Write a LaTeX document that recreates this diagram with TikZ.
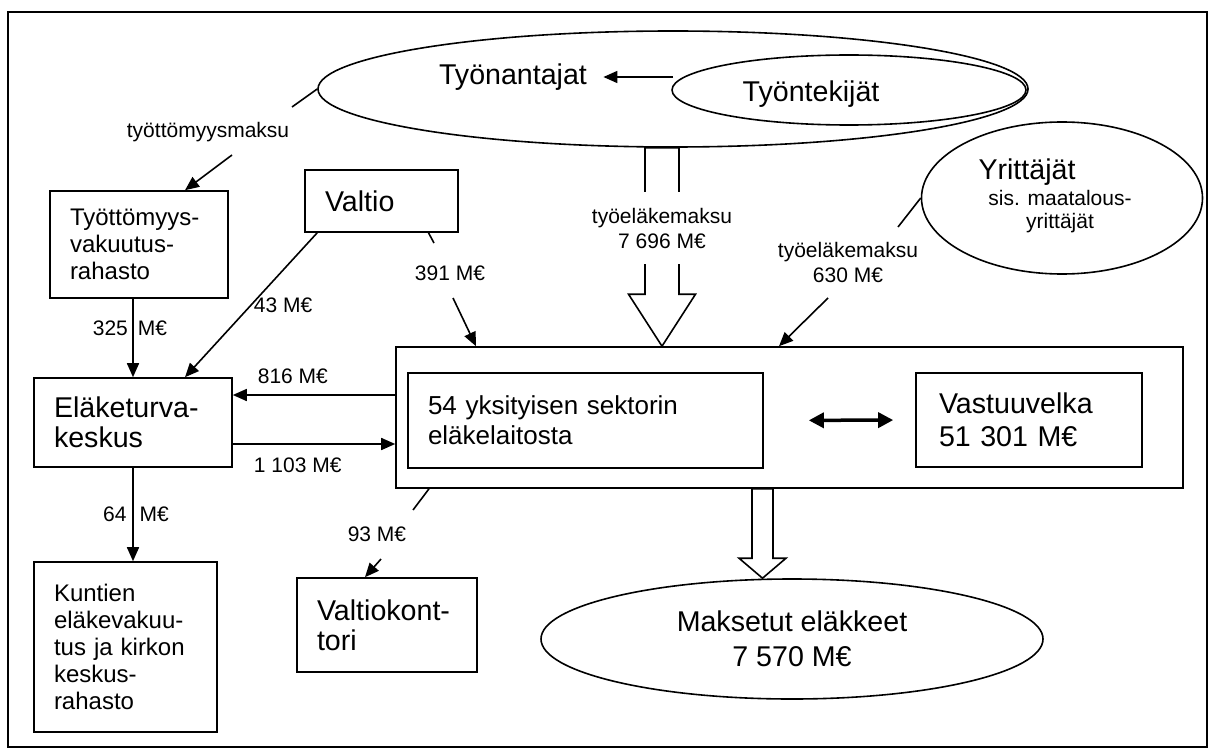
\documentclass[tikz,border=0pt]{standalone}
\usepackage{fontspec}
\setmainfont{Liberation Sans}
\usetikzlibrary{arrows.meta,shapes.geometric,calc}

\begin{document}
\begin{tikzpicture}[x=0.5pt,y=-0.5pt,line width=0.8pt,
  box_node/.style={draw,align=left,inner xsep=10pt,inner ysep=0pt},
  oval_node/.style={draw,ellipse,inner sep=0pt},
  big/.style={font=\fontsize{14.3}{15}\selectfont},
  mid/.style={font=\fontsize{12}{13.5}\selectfont},
  lbl/.style={font=\fontsize{10.5}{12.5}\selectfont,align=center,inner sep=1pt},
  arr/.style={-{Triangle[length=7pt,width=6pt]}}]

    \useasboundingbox (0,0) rectangle (1213,754);
    \draw (8,12) rectangle (1207,747);

    % ovals
    \node[oval_node,minimum width=355pt,minimum height=58pt] (tyonantajat) at (673,89) {};
    \node[oval_node,minimum width=177pt,minimum height=35pt] (tyontekijat) at (849,90) {};
    \node[oval_node,minimum width=140.5pt,minimum height=76pt] (yrittajat) at (1062,198) {};
    \node[oval_node,align=center,minimum width=251pt,minimum height=60pt,
      font=\fontsize{14.3}{17.5}\selectfont] (maksetut) at (792,639) {Maksetut eläkkeet\\7 570 M€};

    \node[big] (tyonantajat_t) at (513,77) {Työnantajat};
    \node[big] (tyontekijat_t) at (811,94) {Työntekijät};
    \node[big] (yrittajat_t) at (1027,172) {Yrittäjät};
    \node[lbl,font=\fontsize{10.5}{11.5}\selectfont] (maatalous) at (1060,212) {sis. maatalous-\\yrittäjät};

    % boxes
    \node[box_node,mid,text width=69pt,minimum height=53.5pt] (tvr) at (139,244.5) {Työttömyys-\\vakuutus-\\rahasto};
    \node[box_node,big,text width=56.5pt,minimum height=31pt] (valtio) at (381.5,201) {Valtio};
    \node[box_node,big,text width=79pt,minimum height=44.5pt] (etk) at (133,422.5) {Eläketurva-\\keskus};
    \node[box_node,mid,text width=71.5pt,minimum height=85pt] (kuntien) at (125.5,647) {Kuntien\\eläkevakuu-\\tus ja kirkon\\keskus-\\rahasto};
    \node[box_node,big,text width=70pt,minimum height=47pt] (vkonttori) at (387,625) {Valtiokont-\\tori};
    \node[draw,minimum width=393.5pt,minimum height=70.5pt] (elake) at (789.5,417.5) {};
    \node[box_node,text width=157.5pt,minimum height=47.5pt,font=\fontsize{13}{15}\selectfont] (laitos) at (585.5,420.5) {54 yksityisen sektorin\\eläkelaitosta};
    \node[box_node,text width=90pt,inner xsep=11.5pt,minimum height=47pt,
      font=\fontsize{14.3}{16.5}\selectfont] (vastuu) at (1029,420) {Vastuuvelka\\51 301 M€};

    % employees -> employers
    \coordinate (tk_a) at (673,77);
    \draw[arr,shorten >=4.5pt] (tk_a) -- (tk_a -| tyonantajat_t.east);

    % tyottomyysmaksu
    \coordinate (tm_a) at (292,107);
    \coordinate (tm_b) at (232,155);
    \draw (tyonantajat.west) -- (tm_a);
    \node[lbl] (tm) at (208,132) {työttömyysmaksu};
    \draw[arr] (tm_b) -- ([xshift=23pt]tvr.north);

    \draw[arr] (tvr.south -| etk.north) -- (etk.north)
      node[lbl,pos=0.375,xshift=-1.5pt] {325\hspace{5pt}M€};
    \draw[arr] ([xshift=6.5pt]valtio.south west) -- ([xshift=26pt]etk.north)
      node[lbl,pos=0.5,anchor=west] {43 M€};

    % valtio -> laitokset
    \coordinate (v_a) at (434,243);
    \coordinate (v_b) at (453,298);
    \draw ([xshift=23.5pt]valtio.south) -- (v_a);
    \node[lbl] (v391) at (450,273) {391 M€};
    \draw[arr] (v_b) -- ([xshift=-156.75pt]elake.north);

    % big hollow arrow
    \coordinate (ta) at ([xshift=-5.5pt]tyonantajat.south);
    \coordinate (tt) at (ta |- elake.north);
    \draw[fill=white] ($(ta)+(-17,0)$) -- ($(tt)+(-17,-52)$) -- ($(tt)+(-33.5,-52)$) -- (tt)
      -- ($(tt)+(33.5,-52)$) -- ($(tt)+(17,-52)$) -- ($(ta)+(17,0)$) -- cycle;
    \node[lbl,fill=white,inner ysep=8pt] (te1) at (662,228) {työeläkemaksu\\7 696 M€};

    % yrittajat
    \coordinate (y_a) at (898,227);
    \coordinate (y_b) at (828,298);
    \draw (yrittajat.west) -- (y_a);
    \node[lbl] (te2) at (848,262) {työeläkemaksu\\630 M€};
    \draw[arr] (y_b) -- ([xshift=-5.25pt]elake.north);

    % etk <-> laitokset
    \coordinate (e_a) at ([yshift=11.25pt]elake.west);
    \draw[arr] (e_a) -- (e_a -| etk.east) node[lbl,pos=0.63,above=4pt] {816 M€};
    \coordinate (e_b) at ([yshift=-10.75pt]etk.east);
    \draw[arr] (e_b) -- (e_b -| elake.west) node[lbl,pos=0.4,below=5.5pt] {1 103 M€};

    \draw[arr] (etk.south) -- (etk.south |- kuntien.north)
      node[lbl,pos=0.5,xshift=1.5pt] {64\hspace{6.5pt}M€};

    % valtiokonttori
    \coordinate (k_a) at (413,510);
    \coordinate (k_b) at (381,559);
    \draw ([xshift=-180.25pt]elake.south) -- (k_a);
    \node[lbl] (k93) at (377,534) {93 M€};
    \draw[arr] (k_b) -- ([xshift=-11pt]vkonttori.north);

    \draw[{Triangle[length=7.5pt,width=7.5pt]}-{Triangle[length=7.5pt,width=7.5pt]},
      line width=1.75pt,shorten <=22.5pt,shorten >=11pt] (laitos.east) -- (vastuu.west);

    % paid pensions
    \coordinate (ma) at ([xshift=-13.5pt]elake.south);
    \coordinate (mt) at (ma |- maksetut.north);
    \draw[fill=white] ($(ma)+(-10.5,0)$) -- ($(mt)+(-10.5,-20)$) -- ($(mt)+(-23.5,-20)$) -- (mt)
      -- ($(mt)+(23.5,-20)$) -- ($(mt)+(10.5,-20)$) -- ($(ma)+(10.5,0)$) -- cycle;
\end{tikzpicture}
\end{document}
